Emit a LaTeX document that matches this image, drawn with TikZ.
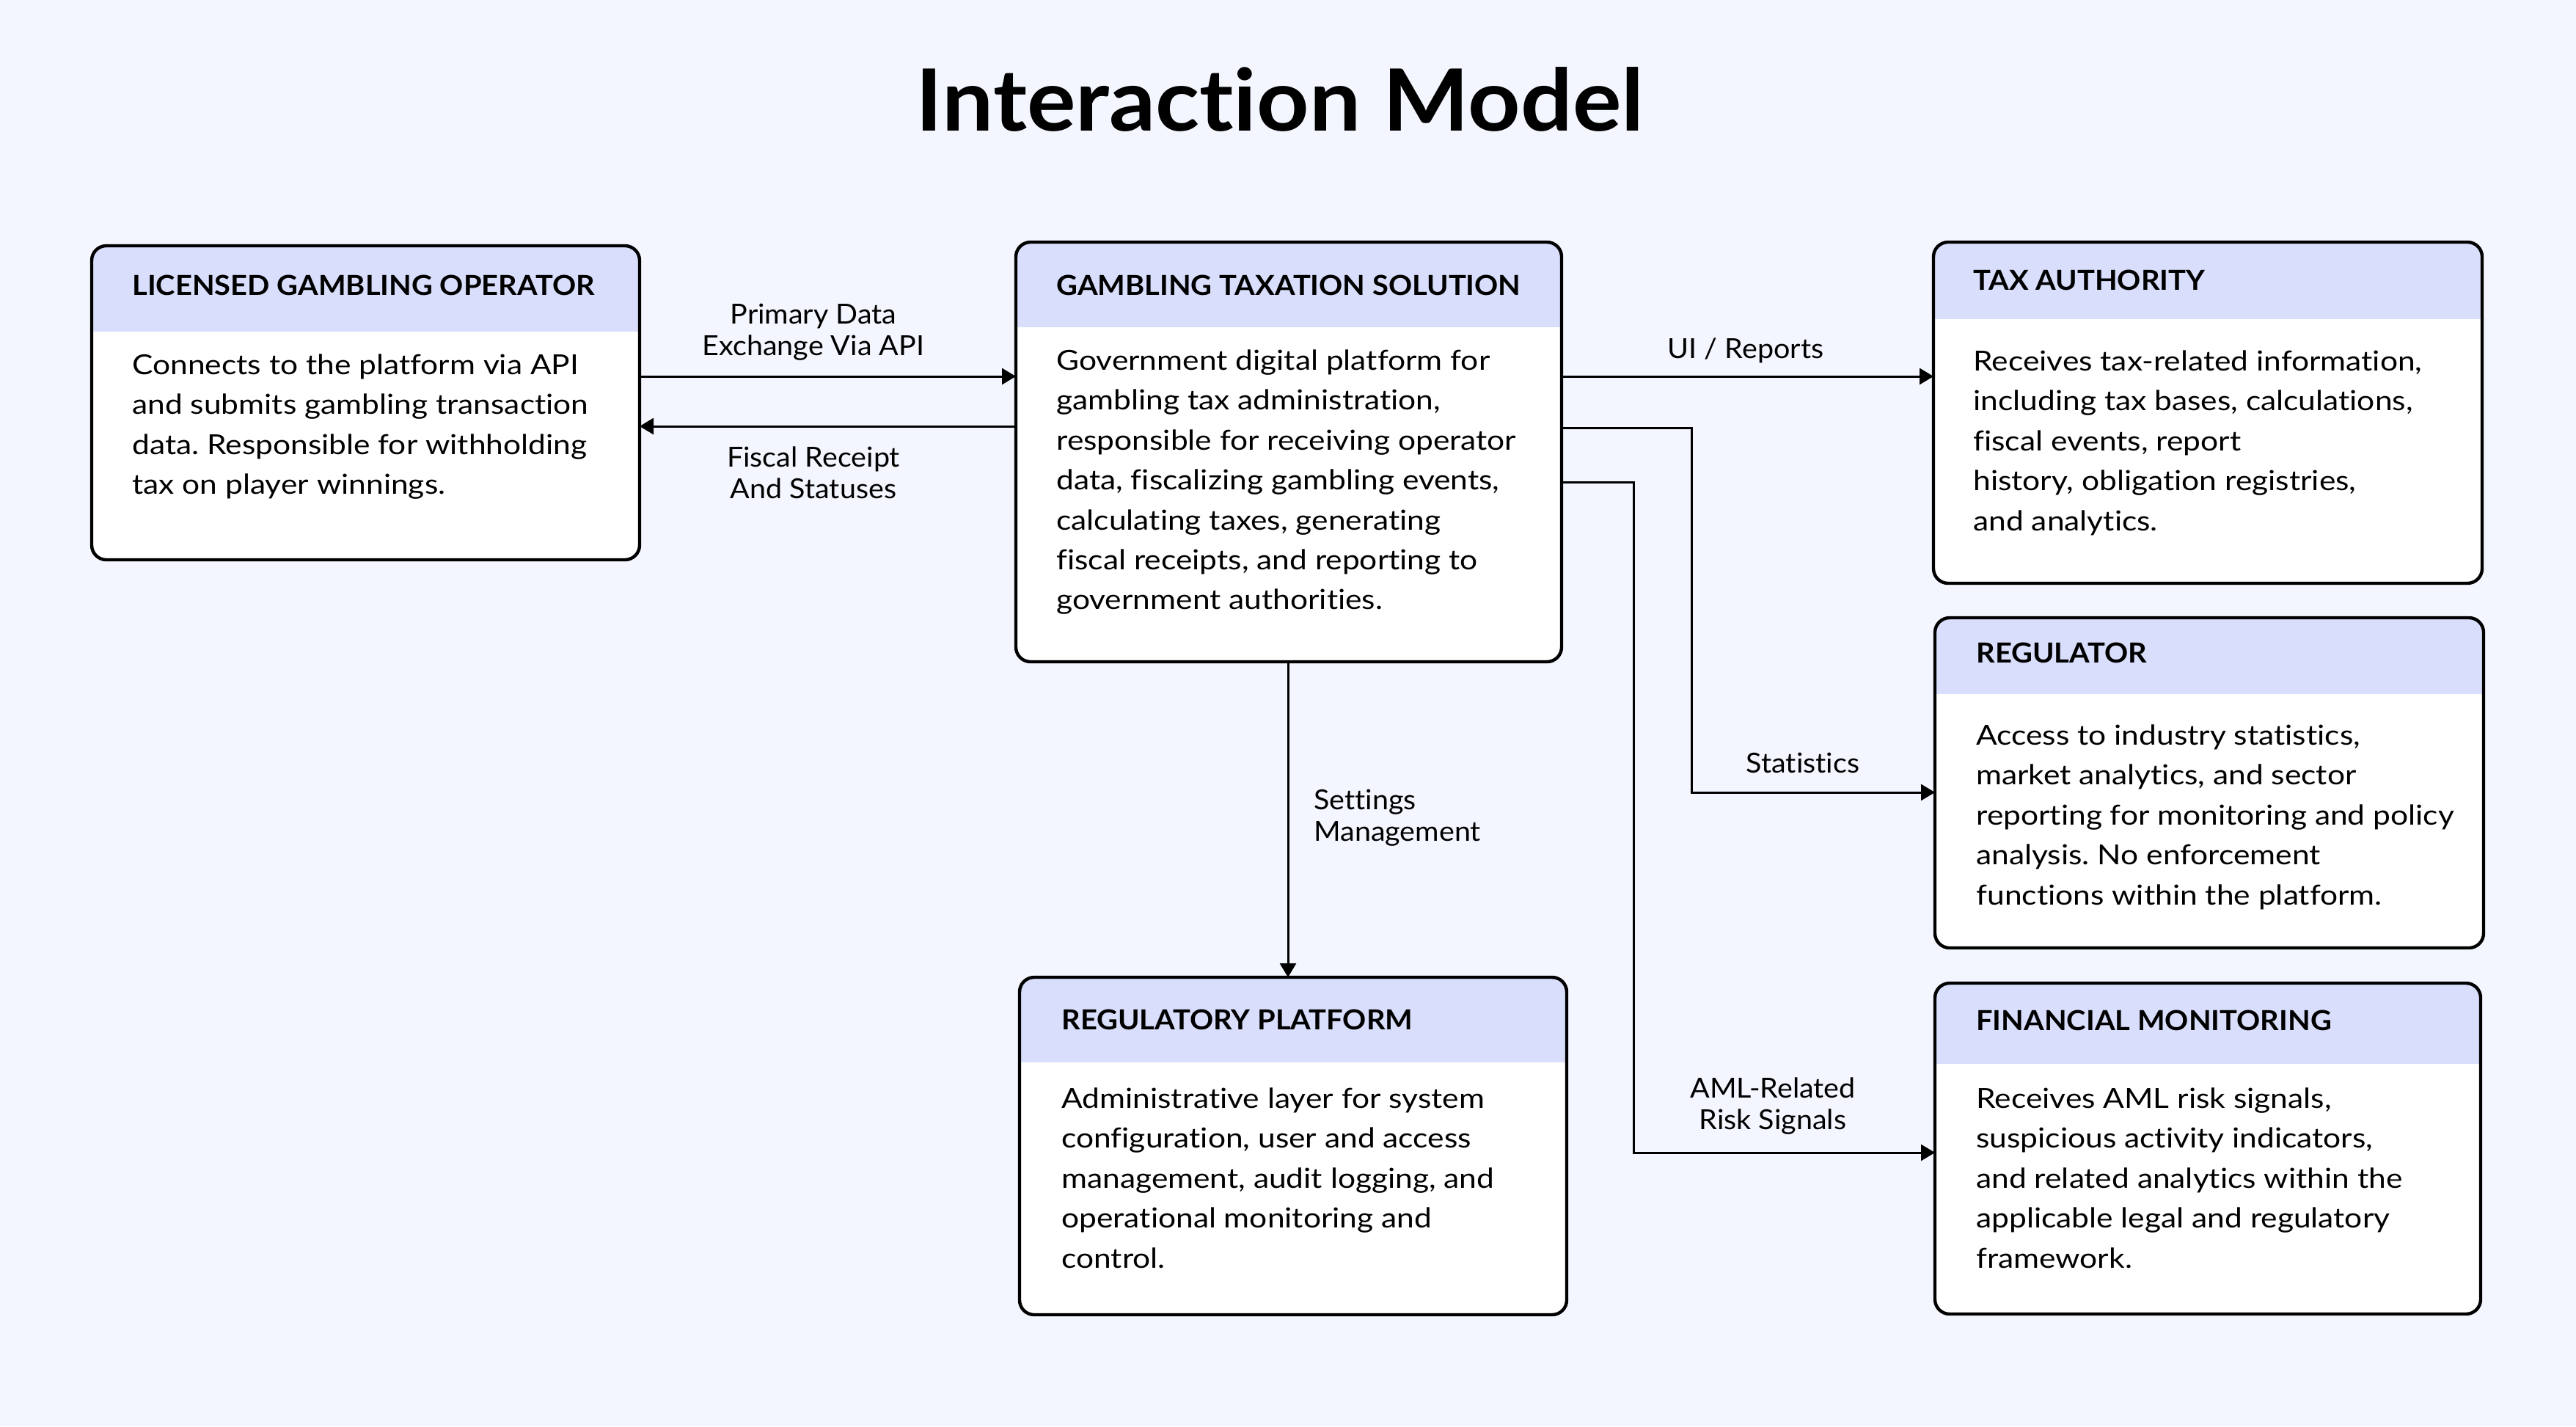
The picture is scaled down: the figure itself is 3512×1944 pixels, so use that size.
\documentclass[tikz,border=0pt]{standalone}
\usepackage{fontspec}
\setmainfont{Lato}[Ligatures=NoCommon]
\newfontfamily\bodyff{Lato}[FakeStretch=1.13, Ligatures=NoCommon]
\newfontfamily\hdrff{Lato}[FakeStretch=1.06, Ligatures=NoCommon]
\newfontfamily\lblff{Lato}[FakeStretch=1.05, Ligatures=NoCommon]
\newfontfamily\titleff{Lato}[FakeStretch=1.065, Ligatures=NoCommon]
\usetikzlibrary{arrows.meta}
\frenchspacing
\definecolor{bgcol}{HTML}{F3F6FE}
\definecolor{hdrcol}{HTML}{D8DEFB}
\newcommand\bodyfont{\bodyff\fontsize{18.8}{27.2}\selectfont}
\newcommand\lblfont{\lblff\fontsize{18.8}{21.4}\selectfont}
\newcommand\hdrfont{\hdrff\bfseries\fontsize{18.8}{22}\selectfont}
\newcommand\fstrut{\rule{0pt}{20pt}}
\newcommand\mkbox[6]{%
  \node[boxbg, minimum width={(#4-#2)*0.5pt}, minimum height={(#5-#3)*0.5pt}] (#1) at ({(#2+#4)/2},{(#3+#5)/2}) {};
  \begin{scope}
    \clip[rounded corners=10pt] (#2,#3) rectangle (#4,#5);
    \fill[hdrcol] (#2,#3) rectangle (#4,#6);
  \end{scope}
  \draw[boxborder] (#2,#3) rectangle (#4,#5);
}
\tikzset{
  boxbg/.style={fill=white, rounded corners=10pt, inner sep=0pt, outer sep=0pt, draw=none},
  boxborder/.style={draw=black, line width=2.2pt, rounded corners=10pt},
  hdrtext/.style={font=\hdrfont, inner sep=0pt, anchor=west},
  bodytext/.style={font=\bodyfont, align=left, inner sep=0pt, anchor=north west},
  lbl/.style={font=\lblfont, align=center, inner sep=0pt, anchor=north},
  arr/.style={line width=1.5pt, -{Triangle[length=9.5pt, width=11pt]}},
}
\begin{document}
\begin{tikzpicture}[x=0.5pt, y=-0.5pt]
\useasboundingbox[fill=bgcol] (0,0) rectangle (3512,1944);

\node[font=\titleff\bfseries\fontsize{58.5}{64}\selectfont, inner sep=0pt] (title) at (1745,135) {Interaction Model};

% boxes
\mkbox{lgo}{125}{335}{872}{763}{452}
\mkbox{gts}{1385}{330}{2129}{902}{446}
\mkbox{ta}{2636}{330}{3384}{795}{435}
\mkbox{reg}{2638}{842}{3386}{1292}{946}
\mkbox{fm}{2638}{1340}{3382}{1791}{1450}
\mkbox{rp}{1390}{1332}{2136}{1792}{1448}

% headers
\node[hdrtext] (lgo-h) at (180,389) {LICENSED GAMBLING OPERATOR};
\node[hdrtext] (gts-h) at (1440,389) {GAMBLING TAXATION SOLUTION};
\node[hdrtext] (ta-h) at (2690,382) {TAX AUTHORITY};
\node[hdrtext] (reg-h) at (2694,890) {REGULATOR};
\node[hdrtext] (fm-h) at (2694,1391) {FINANCIAL MONITORING};
\node[hdrtext] (rp-h) at (1447,1390) {REGULATORY PLATFORM};

% bodies
\node[bodytext] (lgo-b) at (180,470) {\fstrut Connects to the platform via API\\and submits gambling transaction\\data. Responsible for withholding\\tax on player winnings.};
\node[bodytext] (gts-b) at (1440,464) {\fstrut Government digital platform for\\gambling tax administration,\\responsible for receiving operator\\data, fiscalizing gambling events,\\calculating taxes, generating\\fiscal receipts, and reporting to\\government authorities.};
\node[bodytext] (ta-b) at (2690,465) {\fstrut Receives tax-related information,\\including tax bases, calculations,\\fiscal events, report\\history, obligation registries,\\and analytics.};
\node[bodytext] (reg-b) at (2694,975) {\fstrut Access to industry statistics,\\market analytics, and sector\\reporting for monitoring and policy\\analysis. No enforcement\\functions within the platform.};
\node[bodytext] (fm-b) at (2694,1470) {\fstrut Receives AML risk signals,\\suspicious activity indicators,\\and related analytics within the\\applicable legal and regulatory\\framework.};
\node[bodytext] (rp-b) at (1447,1470) {\fstrut Administrative layer for system\\configuration, user and access\\management, audit logging, and\\operational monitoring and\\control.};

% routing coordinates
\coordinate (r1) at (0,513);
\coordinate (r2) at (0,581);
\coordinate (r3) at (0,583);
\coordinate (r4) at (0,657);
\coordinate (c1) at (1756,0);
\coordinate (k1) at (2306,1080);
\coordinate (k2) at (2227,1571);

% connectors
\draw[arr] (lgo.east |- r1) -- (gts.west |- r1);
\draw[arr] (gts.west |- r2) -- (lgo.east |- r2);
\draw[arr] (gts.east |- r1) -- (ta.west |- r1);
\draw[arr] (gts.east |- r3) -| (k1) -- (reg.west |- k1);
\draw[arr] (gts.east |- r4) -| (k2) -- (fm.west |- k2);
\draw[arr] (gts.south -| c1) -- (rp.north -| c1);

% labels
\node[lbl] (l1) at (1109,401) {\fstrut Primary Data\\Exchange Via API};
\node[lbl] (l2) at (1109,596) {\fstrut Fiscal Receipt\\And Statuses};
\node[lbl, anchor=base] (l3) at (2380,488) {UI / Reports};
\node[lbl, anchor=base] (l4) at (2458,1053) {Statistics};
\node[lbl, align=left, anchor=north west] (l5) at (1791,1063) {\fstrut Settings\\Management};
\node[lbl] (l6) at (2417,1456) {\fstrut AML-Related\\Risk Signals};
\end{tikzpicture}
\end{document}
